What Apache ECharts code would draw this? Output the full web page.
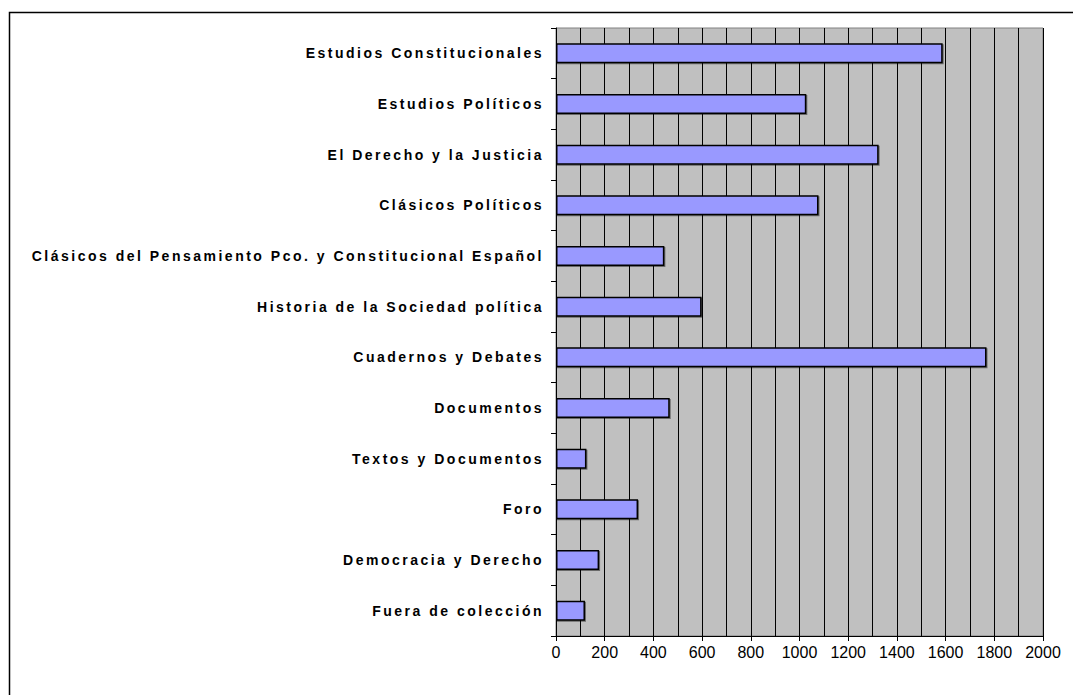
<!DOCTYPE html>
<html>
<head>
<meta charset="utf-8">
<script src="https://cdn.jsdelivr.net/npm/echarts@6/dist/echarts.min.js"></script>
<style>
    html, body { margin: 0; padding: 0; background: #fff; }
    #main { width: 1073px; height: 695px; }
    /* etiquetas del eje vertical con espaciado amplio */
    #main text[text-anchor="end"] { letter-spacing: 2.5px; }
</style>
</head>
<body>
<div id="main"></div>
<script>
// colecciones
var categorias = [
    'Estudios Constitucionales',
    'Estudios Políticos',
    'El Derecho y la Justicia',
    'Clásicos Políticos',
    'Clásicos del Pensamiento Pco. y Constitucional Español',
    'Historia de la Sociedad política',
    'Cuadernos y Debates',
    'Documentos',
    'Textos y Documentos',
    'Foro',
    'Democracia y Derecho',
    'Fuera de colección'
];
// títulos por colección
var valores = [1588, 1028, 1325, 1078, 445, 598, 1768, 467, 125, 337, 177, 119];

var ejeMin = 0;
var ejeMax = 2000;
var ejeIntervalo = 200;

var myChart = echarts.init(document.getElementById('main'), null, { renderer: 'svg' });

var option = {
    animation: false,
    backgroundColor: '#fff',
    graphic: [{
        type: 'rect',
        left: 7,
        top: 10,
        shape: { width: 1200, height: 800 },
        style: { fill: 'none', stroke: '#000', lineWidth: 1.5 },
        z: -10
    }],
    grid: {
        left: 556,
        right: 30,
        top: 28,
        bottom: 59,
        show: true,
        backgroundColor: '#C0C0C0',
        borderColor: '#808080',
        borderWidth: 1
    },
    xAxis: {
        type: 'value',
        min: ejeMin,
        max: ejeMax,
        interval: ejeIntervalo,
        axisLine: { show: true, lineStyle: { color: '#000', width: 1 } },
        axisTick: { show: true, length: 5, lineStyle: { color: '#000' } },
        axisLabel: {
            color: '#000',
            fontSize: 16,
            fontFamily: 'Liberation Sans, Arial, sans-serif',
            margin: 8,
            formatter: function (v) { return String(v); }
        },
        splitLine: { show: true, lineStyle: { color: '#000', width: 1 } },
        minorTick: { show: false, splitNumber: 2 },
        minorSplitLine: { show: true, lineStyle: { color: '#000', width: 1 } }
    },
    yAxis: {
        type: 'category',
        inverse: true,
        data: categorias,
        axisLine: { show: true, lineStyle: { color: '#000', width: 1 } },
        axisTick: { show: true, length: 5, lineStyle: { color: '#000' } },
        axisLabel: {
            color: '#000',
            fontSize: 14,
            fontWeight: 'bold',
            fontFamily: 'Liberation Sans, Arial, sans-serif',
            margin: 12,
            interval: 0
        },
        splitLine: { show: false }
    },
    series: [{
        type: 'bar',
        data: valores,
        barWidth: 20,
        itemStyle: {
            color: '#9999FF',
            borderColor: '#000',
            borderWidth: 1.5,
            shadowColor: 'rgba(0,0,0,0.45)',
            shadowOffsetX: 1,
            shadowOffsetY: 1,
            shadowBlur: 0
        }
    }]
};

myChart.setOption(option);
window.addEventListener('resize', function () {
    myChart.resize();
});
</script>
</body>
</html>
